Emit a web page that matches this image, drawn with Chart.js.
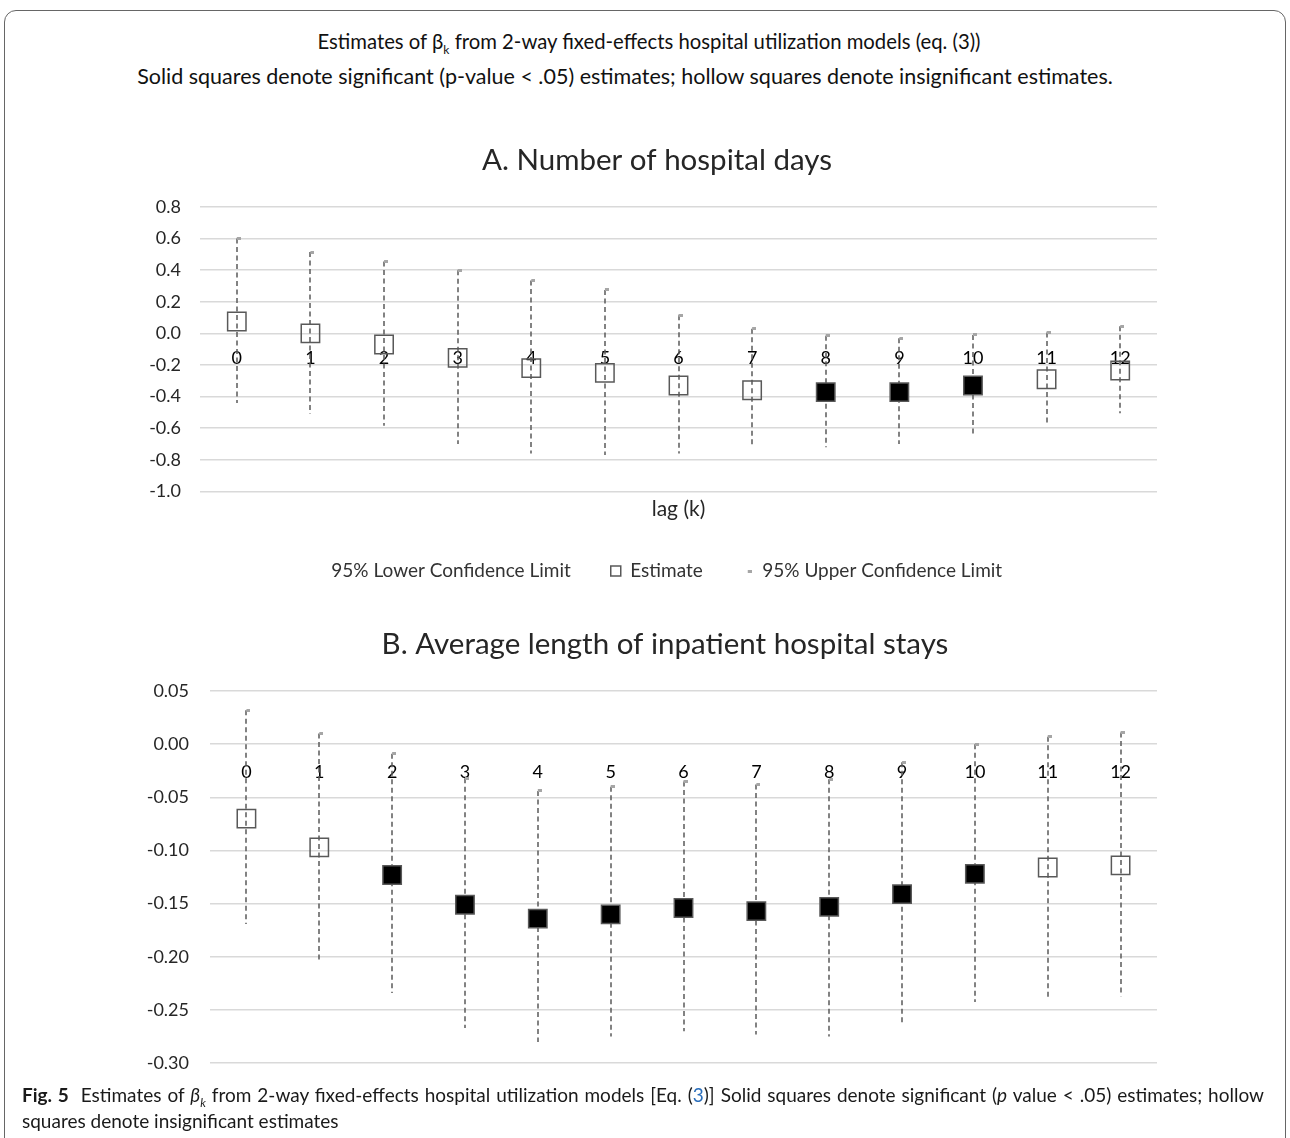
<!DOCTYPE html>
<html>
<head>
<meta charset="utf-8">
<script src="https://cdn.jsdelivr.net/npm/chart.js@4.4.0/dist/chart.umd.min.js"></script>
<style>
  body { margin: 0; background: #fff; font-family: Lato, sans-serif; }
  #page { position: relative; width: 1290px; height: 1138px; overflow: hidden; }
  #frame { position: absolute; left: 4px; top: 10px; width: 1280px; height: 1200px;
           border: 1.5px solid #666; border-radius: 12px; }
  .head { position: absolute; width: 1290px; text-align: center;
          line-height: 24px; color: #111; }
  .head sub { font-size: 12px; line-height: 0; }
  .box { position: absolute; left: 0; width: 1290px; }
  #boxA { top: 130px; height: 470px; }
  #boxB { top: 620px; height: 475px; }
  #caption { position: absolute; left: 22px; top: 1082px; width: 1242px; font-size: 19px;
             line-height: 26px; color: #1a1a1a; }
  #caption .l1 { white-space: nowrap; text-align: justify; text-align-last: justify; }
  #caption sub { font-size: 12px; line-height: 0; }
</style>
</head>
<body>
<div id="page">
  <div id="frame"></div>
  <div class="head" style="left:4px; top:29px; font-size:20.3px">Estimates of β<sub>k</sub> from 2-way fixed-effects hospital utilization models (eq. (3))</div>
  <div class="head" style="left:-20px; top:64px; font-size:21.5px">Solid squares denote significant (p-value &lt; .05) estimates; hollow squares denote insignificant estimates.</div>
  <div class="box" id="boxA"><canvas id="chartA"></canvas></div>
  <div class="box" id="boxB"><canvas id="chartB"></canvas></div>
  <div id="caption">
    <div class="l1"><b>Fig. 5</b>&nbsp; Estimates of <i>β<sub>k</sub></i> from 2-way fixed-effects hospital utilization models [Eq. (<span style="color:#2a6ebb">3</span>)] Solid squares denote significant (<i>p</i> value &lt; .05) estimates; hollow</div>
    <div>squares denote insignificant estimates</div>
  </div>
</div>
<script>
// lag categories
const lags = ['0', '1', '2', '3', '4', '5', '6', '7', '8', '9', '10', '11', '12'];

// A. Number of hospital days
const daysLower = [-0.44, -0.51, -0.585, -0.70, -0.76, -0.77, -0.76, -0.715, -0.72, -0.70, -0.645, -0.58, -0.505];
const daysEstimate = [0.075, 0.0, -0.07, -0.155, -0.22, -0.25, -0.33, -0.36, -0.372, -0.372, -0.33, -0.29, -0.235];
const daysUpper = [0.60, 0.515, 0.455, 0.40, 0.335, 0.275, 0.115, 0.03, -0.015, -0.03, -0.01, 0.005, 0.045];
const daysSignificant = [false, false, false, false, false, false, false, false, true, true, true, false, false];

// B. Average length of inpatient hospital stays
const stayLower = [-0.169, -0.2025, -0.234, -0.267, -0.280, -0.275, -0.270, -0.273, -0.275, -0.2635, -0.2425, -0.238, -0.237];
const stayEstimate = [-0.070, -0.097, -0.123, -0.151, -0.164, -0.160, -0.154, -0.157, -0.153, -0.141, -0.122, -0.116, -0.114];
const stayUpper = [0.032, 0.010, -0.009, -0.032, -0.044, -0.040, -0.035, -0.038, -0.033, -0.017, 0.000, 0.007, 0.011];
const staySignificant = [false, false, true, true, true, true, true, true, true, true, true, false, false];

Chart.defaults.font.family = 'Lato, sans-serif';
Chart.defaults.color = '#262626';

// small grey dash used as the upper-limit marker
const dashMark = document.createElement('canvas');
dashMark.width = 8;
dashMark.height = 3;
let dctx = dashMark.getContext('2d');
dctx.fillStyle = '#a6a6a6';
dctx.fillRect(4, 0, 4, 3);

// dashed high-low lines from lower to upper limit
const highLowLines = {
  id: 'highLowLines',
  beforeDatasetsDraw(chart) {
    const {ctx} = chart;
    const x = chart.scales.x, y = chart.scales.y;
    const lo = chart.data.datasets[0].data;
    const hi = chart.data.datasets[2].data;
    ctx.save();
    ctx.strokeStyle = '#595959';
    ctx.lineWidth = 1.5;
    ctx.setLineDash([5, 3.5]);
    lo.forEach((v, i) => {
      const px = Math.round(x.getPixelForValue(i));
      ctx.beginPath();
      ctx.moveTo(px, y.getPixelForValue(hi[i]));
      ctx.lineTo(px, y.getPixelForValue(v));
      ctx.stroke();
    });
    ctx.restore();
  }
};

function makeChart(id, o) {
  const scales = {
    x: {
      type: 'category',
      offset: true,
      position: {y: 0},
      grid: {display: false, drawTicks: false},
      border: {display: false},
      ticks: {color: '#000', font: {size: 18}, padding: o.xPad, autoSkip: false, maxRotation: 0}
    },
    y: {
      min: o.min, max: o.max,
      grid: {color: '#d9d9d9', lineWidth: 1.5, drawTicks: false},
      border: {display: false},
      ticks: {
        stepSize: o.step, padding: o.tickPad, font: {size: 18}, color: '#262626',
        callback: v => (Math.abs(v) < 1e-9 ? 0 : v).toFixed(o.digits)
      },
      afterFit: s => { s.width = o.yWidth; }
    },
    // empty box on the right so the title sits where the reference has it
    yR: {
      position: 'right',
      grid: {display: false, drawTicks: false},
      border: {display: false},
      ticks: {display: false},
      afterFit: s => { s.width = o.rightGap; }
    }
  };
  if (o.axisTitle) {
    scales.x2 = {
      type: 'category',
      position: 'bottom',
      offset: true,
      grid: {display: false, drawTicks: false},
      border: {display: false},
      ticks: {display: false},
      title: {display: true, text: o.axisTitle, color: '#262626', font: {size: 21}, padding: {top: 5, bottom: 0}}
    };
  }
  return new Chart(document.getElementById(id), {
    type: 'line',
    data: {
      labels: lags,
      datasets: [
        {label: '95% Lower Confidence Limit', data: o.lower, showLine: false, pointRadius: 0, pointHoverRadius: 0},
        {
          label: 'Estimate', data: o.estimate, showLine: false,
          pointStyle: 'rect', pointRadius: 13, pointHoverRadius: 13,
          pointBorderColor: '#595959', pointBorderWidth: 1.5,
          pointBackgroundColor: o.significant.map(s => s ? '#000' : 'rgba(0,0,0,0)'),
          borderColor: '#595959'
        },
        {
          label: '95% Upper Confidence Limit', data: o.upper, showLine: false,
          pointStyle: dashMark, pointRadius: 3, pointHoverRadius: 3,
          pointBorderColor: '#a6a6a6', pointBackgroundColor: '#a6a6a6', borderColor: '#a6a6a6'
        }
      ]
    },
    options: {
      responsive: true,
      maintainAspectRatio: false,
      animation: false,
      layout: {padding: o.padding},
      scales: scales,
      plugins: {
        tooltip: {enabled: false},
        title: {display: true, text: o.title, color: '#262626', font: {size: 29.5, weight: 'normal'}, padding: {top: 0, bottom: 29.3}},
        legend: {
          display: o.legend,
          position: 'bottom',
          labels: {
            usePointStyle: true, boxWidth: 10, boxHeight: 10, padding: 40,
            color: '#333', font: {size: 19},
            generateLabels(chart) {
              const items = Chart.defaults.plugins.legend.labels.generateLabels(chart);
              items[0].fillStyle = 'rgba(0,0,0,0)';
              items[0].strokeStyle = 'rgba(0,0,0,0)';
              return items;
            }
          }
        }
      }
    },
    plugins: [highLowLines]
  });
}

makeChart('chartA', {
  title: 'A. Number of hospital days',
  lower: daysLower, estimate: daysEstimate, upper: daysUpper, significant: daysSignificant,
  min: -1, max: 0.8, step: 0.2, digits: 1, tickPad: 19, xPad: 14,
  yWidth: 62, rightGap: 19,
  axisTitle: 'lag (k)', legend: true,
  padding: {top: 12.3, left: 138, right: 114, bottom: 9.4}
});

makeChart('chartB', {
  title: 'B. Average length of inpatient hospital stays',
  lower: stayLower, estimate: stayEstimate, upper: stayUpper, significant: staySignificant,
  min: -0.3, max: 0.05, step: 0.05, digits: 2, tickPad: 21, xPad: 17,
  yWidth: 72, rightGap: 35,
  axisTitle: null, legend: false,
  padding: {top: 6.3, left: 138, right: 98, bottom: 12}
});
</script>
</body>
</html>
